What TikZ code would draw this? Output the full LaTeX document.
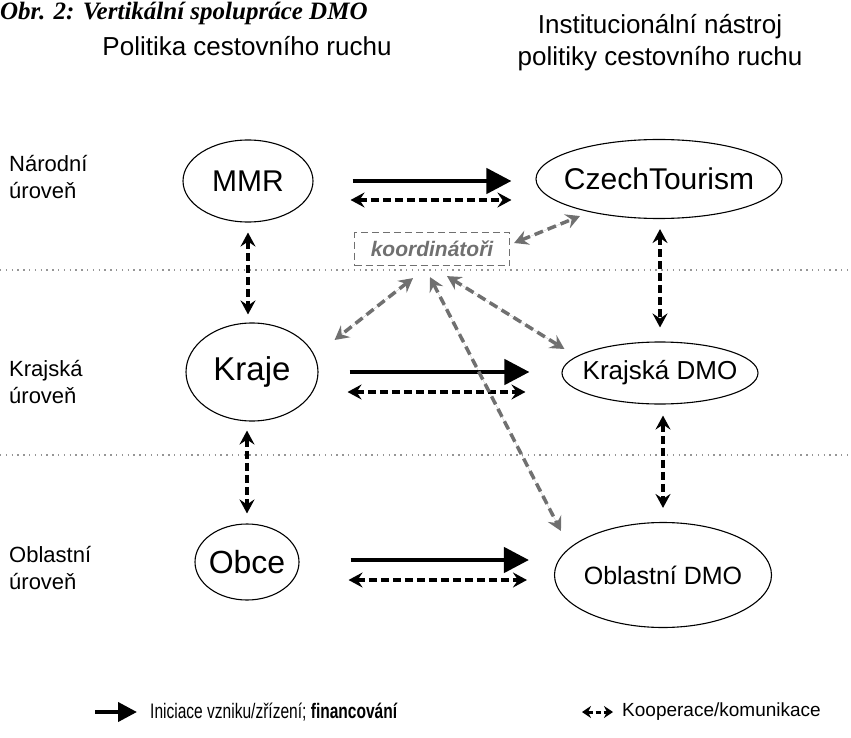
\documentclass[tikz,border=0pt]{standalone}
\usepackage{fontspec}
\setmainfont{Liberation Sans}
\newfontfamily\titlefont{Liberation Serif}
\newfontfamily\narrowfont[FakeStretch=0.74]{Liberation Sans}
\usetikzlibrary{arrows.meta, positioning, shapes.geometric}
\definecolor{linkgray}{RGB}{112,112,112}
\definecolor{dotgray}{RGB}{150,150,150}

\begin{document}
\begin{tikzpicture}[
      x=1pt, y=-1pt,
      actor/.style={ellipse, draw=black, line width=1.1pt, inner sep=0pt,
        execute at begin node={\hbox to 0pt\bgroup\hss},
        execute at end node={\hss\egroup}},
      level/.style={align=left, anchor=west, inner sep=0pt, font=\fontsize{22}{27}\selectfont},
      header/.style={align=center, font=\fontsize{26}{32}\selectfont},
      legend/.style={inner sep=0pt, anchor=west, font=\fontsize{19}{23}\selectfont},
      coordbox/.style={rectangle, draw=linkgray, dash pattern=on 7pt off 4pt, line width=1.2pt, text=linkgray,
        minimum width=155pt, minimum height=33pt, font=\fontsize{21}{25}\selectfont\bfseries\itshape},
      flow/.style={line width=4.5pt, -{Triangle[length=25pt,width=25pt]}},
      coop/.style={line width=3.5pt, dash pattern=on 8pt off 4pt,
        {Stealth[length=14pt,width=15pt,inset=5pt]}-{Stealth[length=14pt,width=15pt,inset=5pt]}},
      link/.style={coop, draw=linkgray, fill=linkgray, dash pattern=on 9pt off 5pt},
      sep/.style={dotgray, line width=1.3pt, dash pattern=on 1.3pt off 4.5pt}
    ]
    \useasboundingbox (0,0) rectangle (851,738);

    % headings
    \node[anchor=base west, inner sep=0pt, font=\fontsize{25}{29}\selectfont\titlefont\bfseries\itshape] (title) at (0,20) {Obr. 2: Vertikální spolupráce DMO};
    \node[header] (polhead) at (247,46) {Politika cestovního ruchu};
    \node[header] (insthead) at (660,43) {Institucionální nástroj\\politiky cestovního ruchu};

    % levels
    \node[level] (narodni) at (9,177) {Národní\\úroveň};
    \node[level] (krajska) at (9,382) {Krajská\\úroveň};
    \node[level] (oblastni) at (9,568) {Oblastní\\úroveň};
    \draw[sep] (0,270) -- (851,270);
    \draw[sep] (0,455) -- (851,455);

    % actors
    \node[actor, minimum width=130pt, minimum height=82pt, font=\fontsize{30}{34}\selectfont] (MMR) at (248,181) {MMR};
    \node[actor, minimum width=246pt, minimum height=79pt, font=\fontsize{30}{34}\selectfont] (CT) at (659,179) {CzechTourism};
    \node[actor, minimum width=132pt, minimum height=98pt, font=\fontsize{33}{37}\selectfont] (Kraje) at (252,372) {Kraje};
    \node[actor, minimum width=196pt, minimum height=62pt, font=\fontsize{26}{30}\selectfont] (KDMO) at (660,373) {Krajská DMO};
    \node[actor, minimum width=104pt, minimum height=76pt, font=\fontsize{32}{36}\selectfont] (Obce) at (247,562) {Obce};
    \node[actor, minimum width=217pt, minimum height=105pt, font=\fontsize{25}{29}\selectfont] (ODMO) at (663,575) {Oblastní DMO};
    \node[coordbox] (koord) at (432,249) {koordinátoři};

    % initiation / financing
    \draw[flow, shorten <=39pt, shorten >=24pt] (MMR.east) -- (MMR.east -| CT.west);
    \draw[flow, shorten <=31pt, shorten >=32pt] (Kraje.east) -- (Kraje.east -| KDMO.west);
    \draw[flow, shorten <=51pt, shorten >=25pt] ([yshift=2pt]Obce.east) -- ([yshift=2pt]Obce.east -| ODMO.west);

    % cooperation
    \draw[coop, shorten <=37pt, shorten >=24pt] ([yshift=-19pt]MMR.east) -- ([yshift=-19pt]MMR.east -| CT.west);
    \draw[coop, shorten <=29pt, shorten >=36pt] ([yshift=-20pt]Kraje.east) -- ([yshift=-20pt]Kraje.east -| KDMO.west);
    \draw[coop, shorten <=49pt, shorten >=27pt] ([yshift=-18pt]Obce.east) -- ([yshift=-18pt]Obce.east -| ODMO.west);
    \draw[coop, shorten <=10pt, shorten >=8pt] (MMR.south) -- (MMR.south |- Kraje.north);
    \draw[coop, shorten <=9pt, shorten >=10pt] (Kraje.south -| Obce.north) -- (Obce.north);
    \draw[coop, shorten <=10pt, shorten >=14pt] (CT.south -| KDMO.north) -- (KDMO.north);
    \draw[coop, shorten <=11pt, shorten >=14pt] (KDMO.south -| ODMO.north) -- (ODMO.north);

    % coordinators
    \draw[link] ([shift={(4pt,6pt)}]koord.east) -- ([shift={(-79pt,3pt)}]CT.south);
    \draw[link] ([shift={(-19pt,-12pt)}]koord.south) -- ([shift={(16pt,32pt)}]Kraje.east);
    \draw[link] ([shift={(15pt,-10pt)}]koord.south) -- ([shift={(3pt,24pt)}]KDMO.west);
    \draw[link] ([shift={(-2pt,-11pt)}]koord.south) -- ([shift={(7pt,44pt)}]ODMO.west);

    % legend
    \coordinate (legflow) at (95,712);
    \node[legend, right=55pt of legflow, font=\fontsize{21}{25}\narrowfont] (legflowtxt) {Iniciace vzniku/zřízení; \textbf{financování}};
    \draw[line width=4pt, -{Triangle[length=19pt,width=19pt]}, shorten >=13pt] (legflow) -- (legflowtxt.west);
    \coordinate (legcoop) at (582,712);
    \node[legend, right=40pt of legcoop] (legcooptxt) {Kooperace/komunikace};
    \draw[line width=3pt, dash pattern=on 5pt off 3pt,
      {Stealth[length=9pt,width=12pt,inset=3pt]}-{Stealth[length=9pt,width=12pt,inset=3pt]},
      shorten >=9pt] (legcoop) -- (legcooptxt.west);
  \end{tikzpicture}
\end{document}
